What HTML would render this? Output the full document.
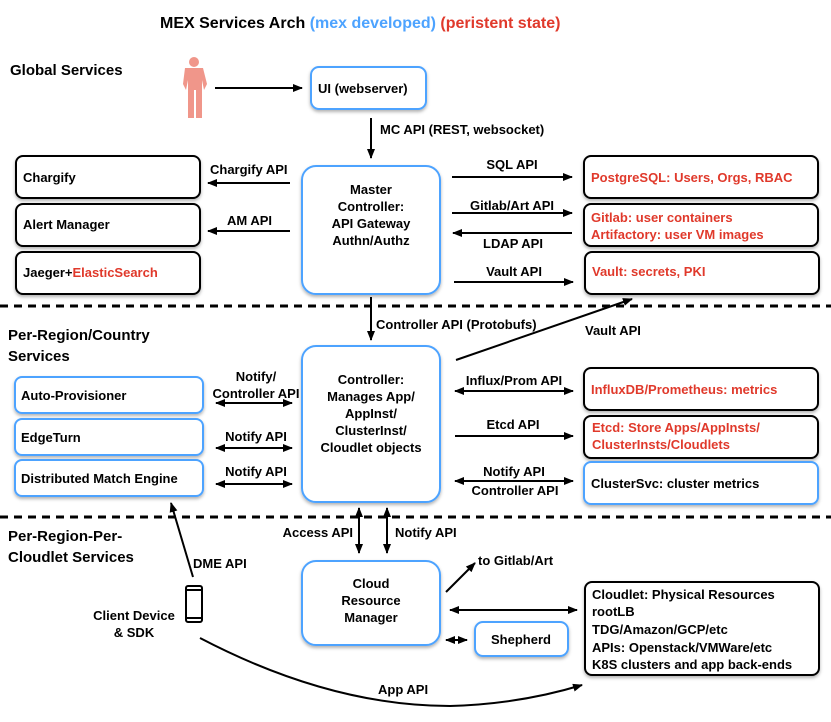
<!DOCTYPE html>
<html><head><meta charset="utf-8"><style>
body{margin:0;background:#fff}
svg{display:block;font-family:"Liberation Sans",sans-serif;font-weight:bold}
</style></head><body>
<svg width="831" height="722" viewBox="0 0 831 722">
<defs>
<marker id="a" markerWidth="10" markerHeight="8" refX="9" refY="4" orient="auto-start-reverse" markerUnits="userSpaceOnUse"><path d="M0,0 L10,4 L0,8 z" fill="#000"/></marker>
<filter id="sh" x="-5%" y="-5%" width="110%" height="120%"><feDropShadow dx="0" dy="2" stdDeviation="1.5" flood-opacity="0.3"/></filter>
</defs>
<g font-size="16"><text x="160" y="28">MEX Services Arch <tspan fill="#4da3ff">(mex developed)</tspan> <tspan fill="#e0392b">(peristent state)</tspan></text></g>
<g font-size="15">
<text x="10" y="75">Global Services</text>
<text x="8" y="340">Per-Region/Country</text><text x="8" y="361">Services</text>
<text x="8" y="541">Per-Region-Per-</text><text x="8" y="562">Cloudlet Services</text>
</g>
<!-- person -->
<g fill="#f0968a"><circle cx="194" cy="62" r="5"/><path d="M185,68 h18 l4,16 -3,6 -2,-10 v38 h-6 v-28 h-2 v28 h-6 v-38 l-2,10 -3,-6z"/></g>
<!-- dashed -->
<g stroke="#000" stroke-width="3" stroke-dasharray="8,6"><line x1="0" y1="306" x2="831" y2="306"/><line x1="0" y1="517" x2="831" y2="517"/></g>
<!-- boxes -->
<g fill="#fff" stroke-width="2" filter="url(#sh)">
<rect x="311" y="67" width="115" height="42" rx="8" stroke="#4da3ff"/>
<rect x="302" y="166" width="138" height="128" rx="14" stroke="#4da3ff"/>
<rect x="16" y="156" width="184" height="42" rx="7" stroke="#000"/>
<rect x="16" y="204" width="184" height="42" rx="7" stroke="#000"/>
<rect x="16" y="252" width="184" height="42" rx="7" stroke="#000"/>
<rect x="584" y="156" width="234" height="42" rx="7" stroke="#000"/>
<rect x="584" y="204" width="234" height="42" rx="7" stroke="#000"/>
<rect x="585" y="252" width="234" height="42" rx="7" stroke="#000"/>
<rect x="302" y="346" width="138" height="156" rx="14" stroke="#4da3ff"/>
<rect x="15" y="377" width="188" height="36" rx="7" stroke="#4da3ff"/>
<rect x="15" y="419" width="188" height="36" rx="7" stroke="#4da3ff"/>
<rect x="15" y="460" width="188" height="36" rx="7" stroke="#4da3ff"/>
<rect x="584" y="368" width="234" height="42" rx="7" stroke="#000"/>
<rect x="584" y="416" width="234" height="42" rx="7" stroke="#000"/>
<rect x="584" y="462" width="234" height="42" rx="7" stroke="#4da3ff"/>
<rect x="302" y="561" width="138" height="84" rx="14" stroke="#4da3ff"/>
<rect x="475" y="622" width="93" height="34" rx="8" stroke="#4da3ff"/>
<rect x="585" y="582" width="234" height="93" rx="7" stroke="#000"/>
</g>
<!-- phone -->
<rect x="186" y="586" width="16" height="36" rx="2" fill="#fff" stroke="#000" stroke-width="2"/>
<line x1="186" y1="590" x2="202" y2="590" stroke="#000" stroke-width="2"/><line x1="186" y1="618" x2="202" y2="618" stroke="#000" stroke-width="2"/>
<!-- arrows -->
<g stroke="#000" stroke-width="2" fill="none">
<line x1="215" y1="88" x2="302" y2="88" marker-end="url(#a)"/>
<line x1="371" y1="118" x2="371" y2="158" marker-end="url(#a)"/>
<line x1="290" y1="183" x2="208" y2="183" marker-end="url(#a)"/>
<line x1="290" y1="231" x2="208" y2="231" marker-end="url(#a)"/>
<line x1="452" y1="177" x2="572" y2="177" marker-end="url(#a)"/>
<line x1="452" y1="213" x2="572" y2="213" marker-end="url(#a)"/>
<line x1="572" y1="233" x2="453" y2="233" marker-end="url(#a)"/>
<line x1="454" y1="282" x2="573" y2="282" marker-end="url(#a)"/>
<line x1="371" y1="297" x2="371" y2="340" marker-end="url(#a)"/>
<line x1="456" y1="360" x2="632" y2="299" marker-end="url(#a)"/>
<line x1="216" y1="403" x2="292" y2="403" marker-start="url(#a)" marker-end="url(#a)"/>
<line x1="216" y1="448" x2="292" y2="448" marker-start="url(#a)" marker-end="url(#a)"/>
<line x1="216" y1="484" x2="292" y2="484" marker-start="url(#a)" marker-end="url(#a)"/>
<line x1="455" y1="391" x2="573" y2="391" marker-start="url(#a)" marker-end="url(#a)"/>
<line x1="455" y1="436" x2="573" y2="436" marker-end="url(#a)"/>
<line x1="455" y1="481" x2="573" y2="481" marker-start="url(#a)" marker-end="url(#a)"/>
<line x1="359" y1="508" x2="359" y2="553" marker-start="url(#a)" marker-end="url(#a)"/>
<line x1="387" y1="508" x2="387" y2="553" marker-start="url(#a)" marker-end="url(#a)"/>
<line x1="446" y1="592" x2="475" y2="563" marker-end="url(#a)"/>
<line x1="450" y1="610" x2="577" y2="610" marker-start="url(#a)" marker-end="url(#a)"/>
<line x1="446" y1="640" x2="467" y2="640" marker-start="url(#a)" marker-end="url(#a)"/>
<line x1="193" y1="577" x2="171" y2="503" marker-end="url(#a)"/>
<path d="M200,638 Q330,706 450,706 Q520,704 582,685" marker-end="url(#a)"/>
</g>
<!-- labels -->
<g font-size="13">
<text x="318" y="93">UI (webserver)</text>
<text x="380" y="134">MC API (REST, websocket)</text>
<g text-anchor="middle"><text x="371" y="194">Master</text><text x="371" y="211">Controller:</text><text x="371" y="228">API Gateway</text><text x="371" y="245">Authn/Authz</text></g>
<text x="23" y="182">Chargify</text>
<text x="23" y="229">Alert Manager</text>
<text x="23" y="277">Jaeger+<tspan fill="#e0392b">ElasticSearch</tspan></text>
<text x="210" y="174">Chargify API</text>
<text x="227" y="225">AM API</text>
<g text-anchor="middle"><text x="512" y="169">SQL API</text><text x="512" y="210">Gitlab/Art API</text><text x="513" y="248">LDAP API</text><text x="514" y="276">Vault API</text></g>
<g fill="#e0392b"><text x="591" y="182">PostgreSQL: Users, Orgs, RBAC</text>
<text x="591" y="222">Gitlab: user containers</text><text x="591" y="239">Artifactory: user VM images</text>
<text x="592" y="276">Vault: secrets, PKI</text>
<text x="591" y="394">InfluxDB/Prometheus: metrics</text>
<text x="592" y="432">Etcd: Store Apps/AppInsts/</text><text x="592" y="449">ClusterInsts/Cloudlets</text></g>
<text x="376" y="329">Controller API (Protobufs)</text>
<text x="585" y="335">Vault API</text>
<g text-anchor="middle"><text x="371" y="384">Controller:</text><text x="371" y="401">Manages App/</text><text x="371" y="418">AppInst/</text><text x="371" y="435">ClusterInst/</text><text x="371" y="452">Cloudlet objects</text></g>
<text x="21" y="400">Auto-Provisioner</text>
<text x="21" y="442">EdgeTurn</text>
<text x="21" y="483">Distributed Match Engine</text>
<g text-anchor="middle"><text x="256" y="381">Notify/</text><text x="256" y="398">Controller API</text><text x="256" y="441">Notify API</text><text x="256" y="476">Notify API</text>
<text x="514" y="385">Influx/Prom API</text><text x="513" y="429">Etcd API</text><text x="514" y="476">Notify API</text><text x="515" y="495">Controller API</text></g>
<text x="591" y="488">ClusterSvc: cluster metrics</text>
<text x="353" y="537" text-anchor="end">Access API</text>
<text x="395" y="537">Notify API</text>
<g text-anchor="middle"><text x="371" y="588">Cloud</text><text x="371" y="605">Resource</text><text x="371" y="622">Manager</text><text x="521" y="644">Shepherd</text></g>
<text x="478" y="565">to Gitlab/Art</text>
<text x="592" y="599">Cloudlet: Physical Resources</text>
<text x="592" y="616">rootLB</text>
<text x="592" y="634">TDG/Amazon/GCP/etc</text>
<text x="592" y="652">APIs: Openstack/VMWare/etc</text>
<text x="592" y="669">K8S clusters and app back-ends</text>
<text x="193" y="568">DME API</text>
<g text-anchor="middle"><text x="134" y="620">Client Device</text><text x="134" y="637">&amp; SDK</text></g>
<text x="378" y="694">App API</text>
</g>
</svg>
</body></html>
